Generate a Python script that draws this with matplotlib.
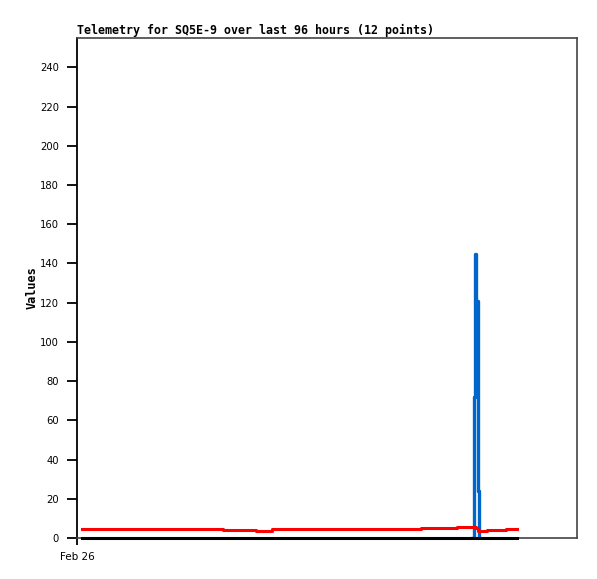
import matplotlib
matplotlib.use("Agg")
import matplotlib.pyplot as plt

# time in hours since start of window (Feb 26 00:00), window is 96 hours
red_t = [1.0, 28.0, 34.4, 37.4, 66.0, 73.0, 76.6, 77.0, 78.7, 82.4, 84.5]
red_v = [4.8, 4.3, 3.7, 4.8, 5.3, 5.8, 5.0, 3.7, 4.2, 4.7, 4.7]

blue_t = [75.9, 76.2, 76.5, 76.7, 76.9, 77.0]
blue_v = [0, 72, 145, 121, 72, 24]

black_t = [1.0, 84.5]
black_v = [0, 0]

yticks = [0, 20, 40, 60, 80, 100, 120, 140, 160, 180, 200, 220, 240]

fig = plt.figure(figsize=(5.97, 5.79), dpi=100)
ax = fig.add_axes([77/597, 1-538/579, 500/597, 500/579])

ax.step(blue_t + [77.1], blue_v + [0], where="post", color="#0066cc", linewidth=2.4)
ax.step(red_t, red_v, where="post", color="#ff0000", linewidth=2.2)
ax.plot(black_t, black_v, color="black", linewidth=2.2, clip_on=False, zorder=4)

ax.set_xlim(0, 96)
ax.set_ylim(0, 255)
ax.set_yticks(yticks)
ax.set_yticklabels([str(v) for v in yticks], fontsize=7.2)
ax.set_xticks([0])
ax.set_xticklabels(["Feb 26"], fontsize=7.5)
ax.tick_params(direction="out", length=7, width=1.3, colors="black", pad=6)
ax.tick_params(axis="x", length=5, pad=5)

for s in ["top", "right", "bottom"]:
    ax.spines[s].set_color("#444444")
    ax.spines[s].set_linewidth(1.2)
ax.spines["left"].set_color("black")
ax.spines["left"].set_linewidth(1.3)

ax.set_title("Telemetry for SQ5E-9 over last 96 hours (12 points)", loc="left",
             family="DejaVu Sans Mono", fontweight="bold", fontsize=8.4, pad=3)
fig.text(32/597, 1-288/579, "Values", rotation=90, ha="center", va="center",
         family="DejaVu Sans Mono", fontweight="bold", fontsize=8.6)

fig.savefig("out.png", dpi=100)
